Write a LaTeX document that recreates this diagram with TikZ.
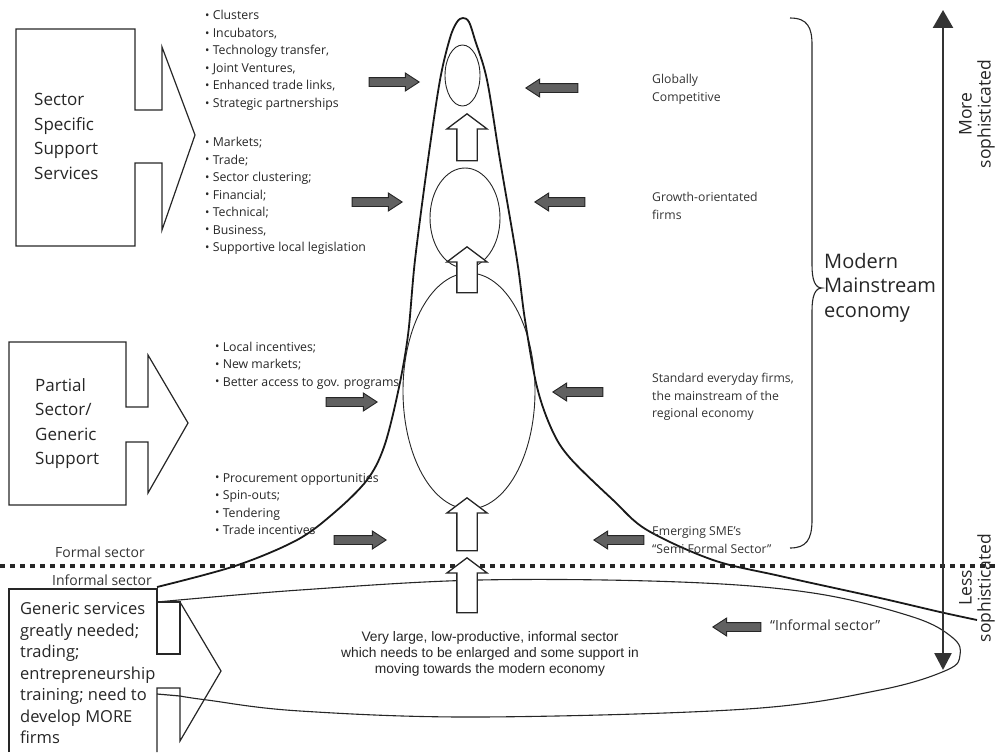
\documentclass[tikz,border=0pt]{standalone}
\usepackage{fontspec}
\setmainfont{Open Sans}
\newfontfamily\arialfont{Liberation Sans}
\usetikzlibrary{arrows.meta,positioning,shapes.arrows}

\newcommand{\bul}{\raisebox{0.3pt}{\scalebox{0.95}{\textbullet}}\ }

\tikzset{
  boxtext/.style={align=left,inner sep=0,text=black!85,font=\fontsize{17}{24.5}\selectfont},
  listtext/.style={align=left,inner sep=0,text=black!85,font=\fontsize{12.3}{17.5}\selectfont},
  sidetext/.style={align=left,inner sep=0,text=black!80,font=\fontsize{12.2}{17.5}\selectfont},
  darrow/.style={single arrow,draw=black!85,fill=black!62,line width=0.9pt,inner xsep=0pt,
    inner ysep=4pt,single arrow head extend=4.5pt,single arrow tip angle=66,
    minimum height=50pt,anchor=tip},
  uparrow/.style={single arrow,draw=black!85,fill=white,line width=1.3pt,inner xsep=0pt,
    inner ysep=9.5pt,single arrow head extend=10pt,single arrow tip angle=106,
    rotate=90,anchor=tip},
  boxline/.style={draw=black!85,line width=1.2pt,line join=miter},
}

\begin{document}
\begin{tikzpicture}[x=1pt,y=-1pt,>=Latex]
\useasboundingbox (0,0) rectangle (998,752);

% support boxes
\draw[boxline] (135,110) -- (162,110) -- (162,47) -- (195,135) -- (162,230) -- (162,163)
  -- (135,163) -- (135,246) -- (16,246) -- (16,29) -- (135,29) -- cycle;
\draw[boxline] (126,407) -- (148,407) -- (148,355) -- (188,423) -- (148,493) -- (148,442)
  -- (126,442) -- (126,505) -- (9,505) -- (9,342) -- (126,342) -- cycle;
\draw[boxline] (9,752) -- (9,589) -- (157,589) -- (157,654) -- (180,654) -- (180,602) -- (157,602);
\draw[boxline] (180,602) -- (221,671) -- (180,741) -- (180,688) -- (157,688) -- (157,752);
\draw[boxline] (157,694) -- (180,696);

\node[boxtext,anchor=west] (sss) at (34,136.5) {Sector\\Specific\\Support\\Services};
\node[boxtext,anchor=west] (psg) at (35,423.5) {Partial\\Sector/\\Generic\\Support};
\node[boxtext,anchor=west,font=\fontsize{16.5}{21.5}\selectfont] (gen) at (20,673.5)
  {Generic services\\greatly needed;\\trading;\\entrepreneurship\\training; need to\\develop MORE\\firms};

% lists
\node[listtext,anchor=west] (lst1) at (205,60.5) {\bul Clusters\\\bul Incubators,\\\bul Technology transfer,\\
  \bul Joint Ventures,\\\bul Enhanced trade links,\\\bul Strategic partnerships};
\node[listtext,anchor=west] (lst2) at (205,196) {\bul Markets;\\\bul Trade;\\\bul Sector clustering;\\
  \bul Financial;\\\bul Technical;\\\bul Business,\\\bul Supportive local legislation};
\node[listtext,anchor=west] (lst3) at (215,365.5) {\bul Local incentives;\\\bul New markets;\\
  \bul Better access to gov. programs};
\node[listtext,anchor=west] (lst4) at (215,504) {\bul Procurement opportunities\\\bul Spin-outs;\\
  \bul Tendering\\\bul Trade incentives};

% sector line
\coordinate (sepL) at (0,566);
\coordinate (sepR) at (998,566);
\draw[line width=4pt,dash pattern=on 5pt off 5pt,black!85] (sepL) -- (sepR);
\node[sidetext,font=\fontsize{14}{15}\selectfont] (formal) at (100,552) {Formal sector};
\node[sidetext,font=\fontsize{14}{15}\selectfont] (informal) at (102,580) {Informal sector};

% informal sector ellipse
\draw[black!85,line width=1.1pt] plot[smooth,tension=0.6] coordinates {(157,602) (300,590) (480,580)
  (680,582) (813,593) (913,617) (953,638) (960,655) (947,670) (880,690) (747,709) (480,717)
  (300,711) (207,700) (180,696)};

% firm ellipses
\draw[black!85,line width=0.9pt] (462.5,75.5) ellipse [x radius=17.5pt,y radius=30.5pt];
\draw[black!85,line width=0.9pt] (465,218) ellipse [x radius=35pt,y radius=50pt];
\draw[black!85,line width=0.9pt] (469,391) ellipse [x radius=66pt,y radius=118pt];

% bell curve
\draw[black!90,line width=1.8pt] plot[smooth,tension=0.55] coordinates {(157,587) (235,566) (297,540)
  (335,512) (367,480) (384,447) (398,392) (408,335) (415,260) (428,160) (440,80) (450,38)
  (457,22) (463,18) (469,22) (475,40) (487,80) (500,160) (517,260) (525,320) (537,387)
  (552,430) (570,458) (613,500) (647,530) (713,560) (780,576) (880,598) (940,612) (977,620)};

% growth arrows
\node[uparrow,minimum height=47pt] (up1) at (467,113) {};
\node[uparrow,minimum height=46pt] (up2) at (467,246) {};
\node[uparrow,minimum height=53pt] (up3) at (467,497) {};
\node[uparrow,minimum height=55pt] (up4) at (467,557) {};

% support arrows
\node[darrow] (a1) at (420,82) {};
\node[darrow] (a2) at (403,202) {};
\node[darrow,minimum height=51pt] (a3) at (378,402) {};
\node[darrow,minimum height=52pt] (a4) at (387,540) {};
\node[darrow,rotate=180,minimum height=52pt] (b1) at (525,88) {};
\node[darrow,rotate=180] (b2) at (534,202) {};
\node[darrow,rotate=180] (b3) at (552,392) {};
\node[darrow,rotate=180] (b4) at (593,540) {};
\node[darrow,rotate=180,minimum height=48pt] (b5) at (712,627) {};

% firm labels
\node[sidetext,anchor=west] (glob) at (652,89.5) {Globally\\Competitive};
\node[sidetext,anchor=west] (grow) at (652,206) {Growth-orientated\\firms};
\node[sidetext,anchor=west] (std) at (652,397) {Standard everyday firms,\\the mainstream of the\\regional economy};
\node[sidetext,anchor=west] (sme) at (652,540) {Emerging SME's\\``Semi Formal Sector''};
\node[sidetext,anchor=west,font=\fontsize{14}{16}\selectfont] (infq) at (770,625) {``Informal sector''};
\node[align=center,inner sep=0,text=black!85,font=\arialfont\fontsize{13.8}{16}\selectfont] (big) at (490,654)
  {Very large, low-productive, informal sector\\which needs to be enlarged and some support in\\moving towards the modern economy};

% mainstream brace
\draw[black!85,line width=1.1pt] (790,18) .. controls (808,18) and (812,28) .. (812,45) -- (812,265)
  .. controls (812,280) and (815,288) .. (822,288) .. controls (815,288) and (812,296) .. (812,311)
  -- (812,520) .. controls (812,540) and (806,548) .. (790,548);
\node[boxtext,anchor=west,font=\fontsize{20}{24.5}\selectfont] (mme) at (824,287.5) {Modern\\Mainstream\\economy};

% sophistication axis
\coordinate (axtop) at (943,10);
\coordinate (axbot) at (943,670);
\draw[black!80,line width=2.6pt,{Triangle[length=18pt,width=20pt]}-{Triangle[length=17pt,width=17pt]}] (axtop) -- (axbot);
\node[boxtext,align=center,rotate=90,font=\fontsize{17.5}{19}\selectfont] (more) at (977,114) {More\\sophisticated};
\node[boxtext,align=center,rotate=90,font=\fontsize{17.5}{19}\selectfont] (less) at (977,588) {Less\\sophisticated};
\end{tikzpicture}
\end{document}
